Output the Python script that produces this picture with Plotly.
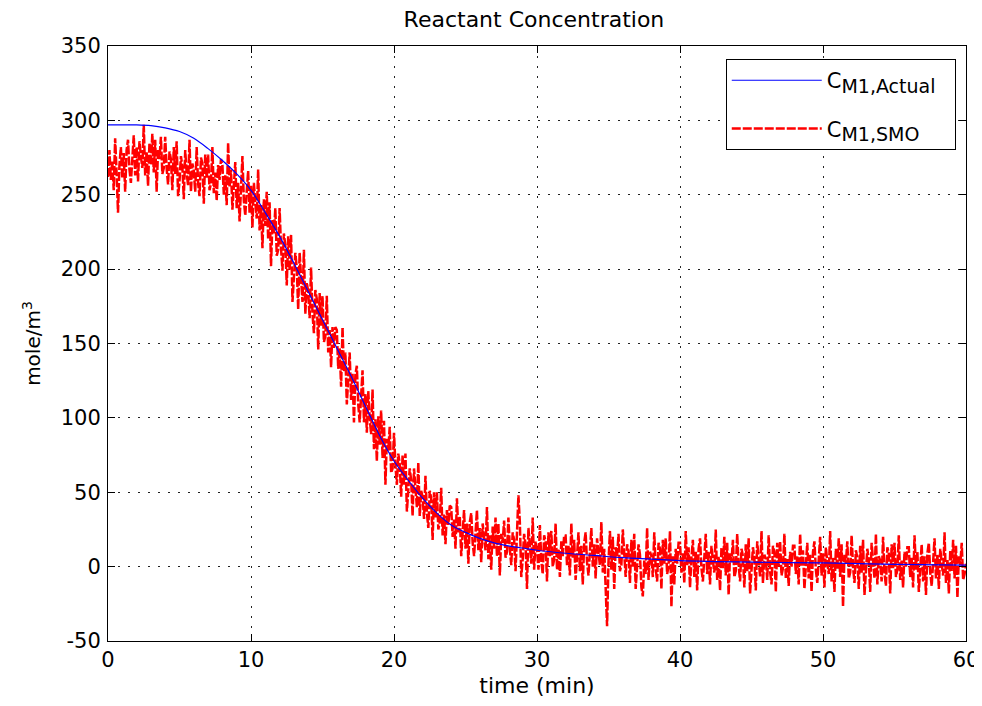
import numpy as np
import plotly.graph_objects as go

# ---- Data ----
# Actual reactant concentration (smooth blue curve)
time_actual = [0, 1, 2, 3, 4, 5, 6, 7, 8, 9, 10, 11, 12, 13, 14, 15, 16, 17, 18, 19,
               20, 21, 22, 23, 24, 25, 26, 27, 28, 29, 30, 32, 34, 36, 38, 40, 45, 50, 55, 60]
c_actual = [297, 297, 297, 296.5, 295, 292.5, 288, 281, 273, 264, 253, 238, 222, 204, 185,
            166, 147, 128, 108, 88, 71, 58, 46, 36, 28, 23, 19, 16, 14, 12.5, 11, 9, 7.5,
            6, 5, 4, 3, 2.5, 1.5, 1]

# SMO estimate (noisy red trace), sampled every 0.1 min, one row per minute
c_smo = [
    262, 280, 260, 273, 253, 288, 265, 238, 270, 282,   # 0
    261, 278, 252, 280, 287, 267, 258, 275, 290, 263,   # 1
    282, 259, 286, 276, 268, 297, 263, 279, 256, 285,   # 2
    270, 291, 265, 287, 252, 280, 274, 289, 264, 268,   # 3
    289, 268, 257, 279, 274, 253, 282, 264, 286, 249,   # 4
    259, 276, 269, 247, 280, 265, 256, 287, 252, 271,   # 5
    266, 252, 282, 258, 249, 275, 271, 244, 277, 261,   # 6
    277, 253, 258, 282, 251, 265, 246, 270, 260, 274,   # 7
    270, 250, 263, 243, 285, 255, 267, 240, 260, 272,   # 8
    241, 258, 232, 260, 276, 246, 236, 252, 266, 238,   # 9
    256, 228, 258, 245, 234, 267, 226, 243, 214, 247,   # 10
    229, 252, 220, 245, 202, 233, 224, 241, 209, 213,   # 11
    241, 214, 199, 224, 216, 189, 222, 199, 223, 178,   # 12
    193, 211, 201, 173, 211, 191, 178, 213, 170, 191,   # 13
    185, 167, 201, 170, 157, 186, 180, 146, 184, 162,   # 14
    182, 151, 155, 182, 144, 159, 134, 161, 147, 161,   # 15
    159, 133, 147, 121, 161, 131, 144, 109, 131, 144,   # 16
    112, 130, 97, 129, 135, 109, 97, 116, 132, 97,      # 17
    116, 90, 118, 100, 89, 119, 79, 99, 71, 101,        # 18
    82, 105, 73, 98, 55, 86, 78, 94, 63, 66,            # 19
    90, 68, 55, 76, 69, 47, 75, 55, 76, 37,             # 20
    50, 66, 58, 34, 66, 50, 40, 70, 34, 51,             # 21
    47, 32, 61, 36, 26, 51, 46, 18, 50, 33,             # 22
    50, 25, 30, 53, 21, 35, 15, 38, 28, 41,             # 23
    40, 20, 32, 12, 46, 23, 34, 7, 26, 38,              # 24
    12, 29, 2, 30, 36, 16, 7, 23, 38, 11,               # 25
    26, 3, 29, 19, 11, 40, 5, 21, -2, 27,               # 26
    12, 33, 7, 29, -6, 22, 16, 31, 6, 10,               # 27
    33, 12, 1, 23, 18, -3, 26, 48, 30, -7,              # 28
    5, 22, 15, -15, 26, 11, 2, 33, -2, 17,              # 29
    12, -2, 28, 4, -5, 21, 17, -10, 23, 7,              # 30
    24, 0, 5, 29, -2, 12, -7, 17, 7, 21,                # 31
    21, 1, 14, -6, 29, 6, 18, -9, 11, 23,               # 32
    -3, 14, -12, 16, 23, 3, -6, 11, 26, 0,              # 33
    15, -8, 19, 9, 1, 30, -4, 12, -11, -40,             # 34
    3, 24, -2, 20, -15, 13, 7, 22, -3, 1,               # 35
    25, 4, -7, 15, 10, -11, 18, 0, 22, -15,             # 36
    -2, 15, 8, -14, -20, 4, -5, 26, -9, 10,             # 37
    7, -7, 23, -1, -10, 16, 12, -15, 18, 2,             # 38
    19, -5, 0, 24, -27, 7, -12, 12, 2, 16,              # 39
    16, -4, 9, -11, 24, 1, 13, -14, 6, 18,              # 40
    -7, 10, -16, 12, 19, -1, -10, 7, 22, -5,            # 41
    10, -12, 14, 4, -4, 25, -9, 7, -16, 13,             # 42
    -1, 20, -6, 16, -19, 9, 3, 18, -7, -3,              # 43
    22, 1, -10, 12, 7, -14, 15, -3, 19, -18,            # 44
    -4, 13, 6, -16, 17, 2, -7, 24, -11, 8,              # 45
    5, -9, 21, -3, -12, 14, 10, -17, 16, 0,             # 46
    17, -6, -1, 22, -8, 5, -13, 10, 0, 14,              # 47
    14, -5, 7, -12, 22, 0, 11, -15, 4, 16,              # 48
    -8, 8, -17, 10, 17, -2, -11, 5, 20, -6,             # 49
    9, -14, 13, 3, -5, 24, -10, 6, -17, 12,             # 50
    -2, 19, -7, 15, -27, 8, 2, 17, -8, -4,              # 51
    21, 0, -11, 11, 6, -15, 14, -4, 18, -19,            # 52
    -5, 12, 5, -17, 16, 0, -8, 22, -12, 7,              # 53
    4, -10, 20, -4, -13, 13, 9, -18, 15, -1,            # 54
    16, -7, -2, 21, -9, 4, -14, 10, 0, 13,              # 55
    13, -7, 6, -14, 21, -2, 10, -17, 3, 15,             # 56
    -10, 7, -19, 9, 16, -4, -13, 4, 19, -8,             # 57
    8, -15, 12, 2, -6, 23, -11, 5, -18, 11,             # 58
    -3, 18, -8, 14, -21, 7, 1, 16, -9, -5,              # 59
    2,                                                  # 60
]
sample_step = 0.1
time_smo = np.round(np.arange(len(c_smo)) * sample_step, 2)

x_ticks = [0, 10, 20, 30, 40, 50, 60]
y_ticks = [-50, 0, 50, 100, 150, 200, 250, 300, 350]
y_tick_labels = ["-50", "0", "50", "100", "150", "200", "250", "300", "350"]

name_actual = "C<sub><span style='font-size:19px'>M1,Actual</span></sub>\u00a0\u00a0"
name_smo = "C<sub><span style='font-size:19px'>M1,SMO</span></sub>"

FONT = "DejaVu Sans"

fig = go.Figure()
fig.add_trace(go.Scatter(
    x=time_smo, y=c_smo, mode="lines", name=name_smo,
    legendgroup="smo", legendrank=2,
    line=dict(color="#FF0000", width=2.5, dash="9px,2px"),
))
fig.add_trace(go.Scatter(
    x=time_actual, y=c_actual, mode="lines", name=name_actual,
    legendgroup="actual", legendrank=1,
    line=dict(color="#0000FF", width=1.2, shape="spline"),
))

axis_common = dict(
    showline=True, linecolor="black", linewidth=1, mirror="ticks",
    ticks="inside", ticklen=7, tickcolor="black", tickwidth=1,
    showgrid=True, gridcolor="#222222", gridwidth=1, griddash="2px,8px",
    zeroline=False, automargin=False, ticklabeloverflow="allow",
    tickfont=dict(family=FONT, size=21, color="black"),
)

# The page body adds an 8px offset, so the figure starts at (8, 8) in the window
fig.update_layout(
    width=974, height=690,
    paper_bgcolor="white", plot_bgcolor="white",
    margin=dict(l=100, r=16, t=38, b=57),
    title=dict(text="Reactant Concentration", x=0.540, xanchor="center",
               y=0.984, yanchor="middle",
               font=dict(family=FONT, size=22, color="black")),
    xaxis=dict(range=[0, 60], tickvals=x_ticks,
               title=dict(text="time (min)", standoff=12,
                          font=dict(family=FONT, size=22, color="black")),
               **axis_common),
    yaxis=dict(range=[-50, 350], tickvals=y_ticks, ticktext=y_tick_labels,
               ticklabelstandoff=2,
               title=dict(text="mole/m<sup>3</sup>", standoff=14,
                          font=dict(family=FONT, size=20, color="black")),
               **axis_common),
    legend=dict(
        x=0.72, y=0.978, xanchor="left", yanchor="top",
        bgcolor="white", bordercolor="black", borderwidth=1,
        font=dict(family=FONT, size=21, color="black"),
        traceorder="grouped", itemwidth=90, tracegroupgap=18,
    ),
    showlegend=True,
)

fig.write_html("out.html")
